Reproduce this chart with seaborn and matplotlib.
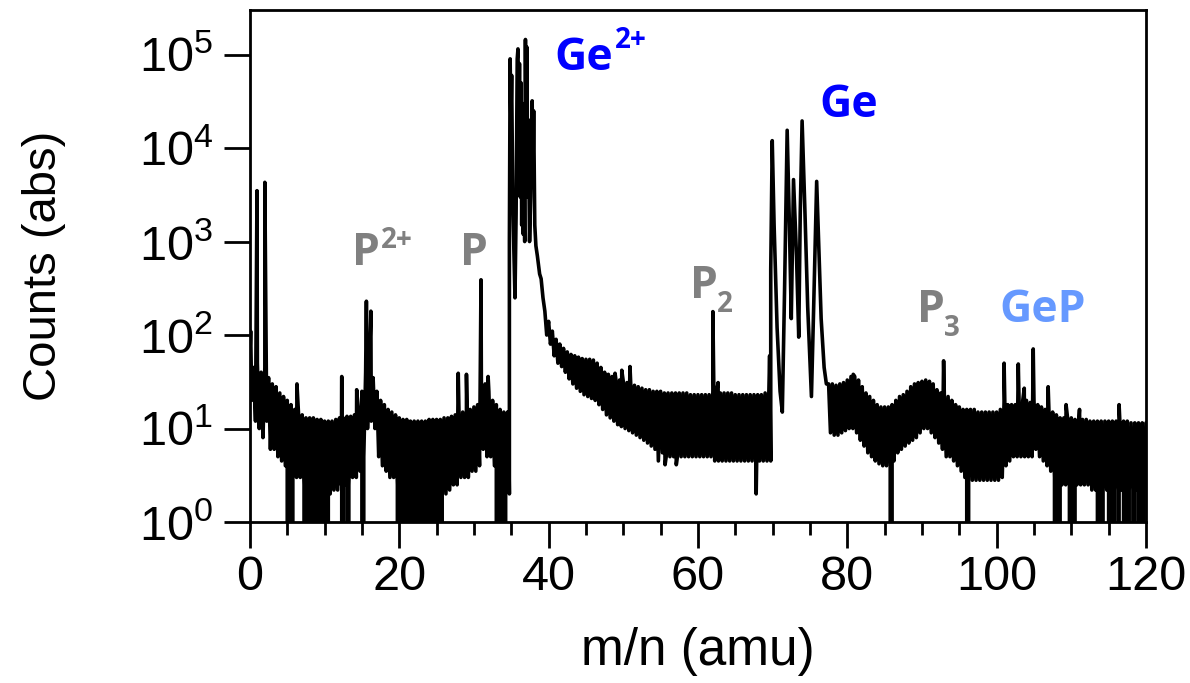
import numpy as np
import pandas as pd
import matplotlib
matplotlib.use("Agg")
import matplotlib.pyplot as plt
import seaborn as sns
from matplotlib.ticker import MultipleLocator, FixedLocator, NullLocator, LogFormatterSciNotation

# ---------------- data ----------------
# noise band (upper / lower envelope), sampled every 0.5 amu
band_step = 0.5

band_a_start = 0.0   # 0.0 ... 34.5
band_a_upper = [60, 45, 50, 40, 45, 35, 30, 28, 24, 22,
                20, 18, 16, 15, 14, 13, 13, 13, 12.5, 12.5,
                12, 12, 12, 12.5, 13, 13, 13.5, 13.5, 14, 16,
                25, 40, 45, 35, 25, 20, 18, 16, 15, 14,
                13, 12.5, 12.5, 12, 12, 12, 12, 12, 12.5, 12.5,
                12.5, 12.5, 13, 13, 13.5, 14, 15, 15, 16, 16,
                17, 18, 25, 30, 25, 20, 18, 16, 15, 15]
band_a_lower = [20, 12, 10, 8, 12, 6, 6, 5, 4.5, 4,
                4, 3.5, 3, 3, 2.5, 2.5, 2.2, 2.2, 2, 2,
                2, 2, 2.2, 2.2, 2.5, 2.5, 2.5, 3, 3, 3.5,
                5, 10, 12, 10, 5, 4, 3.5, 3, 3, 2.5,
                2.2, 2, 2, 2, 2, 2, 2, 2, 2, 2,
                2, 2, 2, 2.2, 2.5, 2.5, 3, 3, 3, 3.5,
                3.5, 4, 6, 5, 5, 4, 3, 2.5, 2, 2]

band_c_start = 39.0  # 39.0 ... 69.5
band_c_upper = [400, 180, 140, 110, 90, 80, 72, 66, 62, 60,
                58, 56, 55, 55, 54, 50, 45, 40, 38, 36,
                34, 33, 32, 31, 30, 29, 28, 27, 26, 26,
                25, 25, 25, 24, 24, 24, 24, 24, 24, 24,
                23, 23, 23, 23, 23, 23, 25, 25, 24, 24,
                24, 24, 23, 23, 23, 23, 23, 23, 23, 23,
                24, 25]
band_c_lower = [250, 100, 80, 60, 50, 46, 40, 34, 30, 27,
                25, 23, 22, 21, 20, 18, 16, 14, 13, 12,
                11, 10.5, 10, 9.5, 9, 8.5, 8, 7.5, 7, 6.5,
                6, 6, 5.5, 5, 5, 5, 5, 5, 5, 5,
                5, 5, 5, 5, 5, 5, 4.5, 4.5, 4.5, 4.5,
                4.5, 4.5, 4.5, 4.5, 4.5, 4.5, 4.5, 4.5, 4.5, 4.5,
                4.5, 4.5]

band_e_start = 77.5  # 77.5 ... 120.0
band_e_upper = [30, 30, 29, 30, 31,
                33, 36, 36, 33, 28, 24, 22, 20, 18, 17,
                17, 17, 18, 20, 22, 23, 25, 28, 30, 31,
                32, 33, 32, 30, 26, 24, 22, 22, 20, 18,
                17, 16, 16, 16, 16, 15, 15, 15, 15, 15,
                15, 16, 20, 18, 18, 18, 20, 20, 20, 19,
                20, 18, 17, 16, 16, 15, 14, 13, 13, 13,
                13, 12.5, 12.5, 12.5, 12.5, 12, 12, 12, 12, 12,
                12, 12, 12, 12, 12, 12, 11.5, 11.5, 11.5, 11.5, 11.5]
band_e_lower = [9, 8.5, 8.5, 9, 9.5,
                10, 10, 9, 7.5, 6.5, 5.5, 5, 4.5, 4.2, 4,
                4, 4.2, 4.5, 5.5, 6, 6.5, 7, 7.5, 8, 9,
                10, 10, 9, 8, 7, 6, 5, 5, 4.5, 4,
                3.5, 3, 3, 2.8, 2.8, 2.8, 2.8, 2.8, 2.8, 2.8,
                2.8, 3, 4, 4.5, 5, 5, 5, 5, 5, 5,
                6, 5, 4.5, 4, 3.5, 3, 2.5, 2.5, 2.5, 2.5,
                2.5, 2.5, 2.5, 2.5, 2.5, 2.2, 2.2, 2.2, 2.2, 2.2,
                2.2, 2.2, 2.2, 2.2, 2.2, 2.2, 2.2, 2.2, 2.2, 2.2, 2.2]

# Ge2+ cluster profile
ge2_mz = [34.6, 34.75, 34.85, 34.95, 35.05, 35.2, 35.35, 35.5, 35.65, 35.8,
          35.9, 36.0, 36.1, 36.2, 36.3, 36.4, 36.5, 36.6, 36.7, 36.8,
          36.9, 37.0, 37.1, 37.2, 37.3, 37.45, 37.6, 37.8, 37.9, 38.0,
          38.15, 38.3, 38.5, 38.8]
ge2_counts = [15, 1000, 9.0e4, 2.0e4, 6.0e4, 3000, 800, 250, 2000, 9.0e4,
              1.15e5, 1.0e4, 8.0e4, 3000, 5.0e4, 1500, 3.0e4, 1200, 2.0e4, 1000,
              1.45e5, 5000, 1.2e5, 3000, 2.0e4, 1000, 3000, 3.2e4, 5000, 2.5e4,
              1500, 900, 700, 450]

# Ge+ cluster profile
ge_mz = [69.6, 69.75, 69.95, 70.2, 70.6, 71.0, 71.3, 71.6, 71.95, 72.25,
         72.5, 72.8, 73.2, 73.5, 73.7, 73.95, 74.3, 74.7, 75.2, 75.5,
         75.9, 76.2, 76.5, 76.9, 77.2]
ge_counts = [60, 500, 1.2e4, 1500, 120, 25, 15, 300, 1.55e4, 1500,
             150, 4600, 700, 95, 2000, 1.95e4, 2500, 200, 22, 200,
             4400, 800, 150, 45, 30]

# isolated peaks and upward spikes
peak_mz = [0.1, 0.95, 2.0, 6.3, 12.3, 14.3, 15.6, 16.2, 27.9, 29.0,
           30.95, 31.9, 48.9, 49.8, 50.9, 62.0, 62.7, 80.8, 92.9, 101.0,
           102.9, 103.7, 104.9, 106.9, 109.3, 111.1, 116.4]
peak_counts = [110, 3500, 4300, 30, 36, 26, 230, 180, 39, 38,
               390, 36, 39, 42, 46, 178, 31, 38, 53, 50,
               49, 27, 71, 28, 18, 16, 18]

# downward spikes
dip_mz = [54.7, 55.6, 57.1, 67.8]
dip_counts = [4.5, 4.1, 4.1, 2.0]

# zero-count bins (lines to the bottom)
zero_mz = [5.2, 5.6, 7.3, 7.8, 8.3, 8.9, 9.4, 9.8, 10.3, 12.4, 13.0, 15.0,
           19.9, 20.4, 20.9, 21.3, 21.8, 22.2, 22.7, 23.1, 23.6, 24.0, 24.5,
           25.1, 25.6, 33.2, 33.6, 34.1, 85.9, 96.0, 107.9, 108.3, 109.8,
           110.3, 113.5, 114.2, 115.0, 115.6, 116.3, 117.0, 117.6, 118.3,
           119.0, 119.6]

# labels
labels = ["P", "P", "Ge", "Ge", "P", "P", "GeP"]
label_mz = [13.65, 28.1, 40.8, 76.3, 58.9, 89.3, 100.4]
label_counts = [560, 560, 6.9e4, 2.17e4, 250, 138, 138]
label_colors = ["#808080", "#808080", "#0000FF", "#0000FF", "#808080", "#808080", "#6699FF"]
script_text = ["2+", "", "2+", "", "2", "3", ""]
script_mz = [17.6, 0, 48.9, 0, 62.6, 93.0, 0]
script_counts = [860, 1, 1.18e5, 1, 177, 98, 1]

# ---------------- assemble trace ----------------
def band_points(start, upper, lower):
    pts = []
    for i, (u, l) in enumerate(zip(upper, lower)):
        x = start + band_step * i
        pts.append((x, u))
        pts.append((x + band_step / 2, l))
    return pts

pts = []
pts += band_points(band_a_start, band_a_upper, band_a_lower)
pts += band_points(band_c_start, band_c_upper, band_c_lower)
pts += band_points(band_e_start, band_e_upper, band_e_lower)
pts += list(zip(ge2_mz, ge2_counts))
pts += list(zip(ge_mz, ge_counts))
pts += list(zip(peak_mz, peak_counts))
pts += list(zip(dip_mz, dip_counts))
pts += [(z, 0.0) for z in zero_mz]
pts = [p for p in pts if p[0] <= 120.0]
pts.sort(key=lambda p: p[0])
df = pd.DataFrame(pts, columns=["mz", "counts"])

# ---------------- plot ----------------
sns.set_theme(style="ticks")
plt.rcParams["font.family"] = ["Liberation Sans", "DejaVu Sans"]
plt.rcParams["mathtext.fontset"] = "custom"
plt.rcParams["mathtext.rm"] = "Liberation Sans"
plt.rcParams["mathtext.it"] = "Liberation Sans:italic"
plt.rcParams["mathtext.bf"] = "Liberation Sans:bold"

fig = plt.figure(figsize=(11.9, 6.83), dpi=100)
ax = fig.add_axes([0.210, 0.2357, 0.753, 0.7497])

sns.lineplot(data=df, x="mz", y="counts", estimator=None, sort=False,
             color="black", linewidth=2.6, ax=ax)

ax.set_yscale("log")
ax.set_xlim(0, 120)
ax.set_ylim(1, 3e5)
ax.xaxis.set_major_locator(MultipleLocator(20))
ax.xaxis.set_minor_locator(MultipleLocator(5))
ax.yaxis.set_major_locator(FixedLocator([1, 10, 100, 1e3, 1e4, 1e5]))
ax.yaxis.set_major_formatter(LogFormatterSciNotation())
ax.yaxis.set_minor_locator(NullLocator())

for s in ax.spines.values():
    s.set_linewidth(2.0)
    s.set_color("black")
ax.tick_params(axis="both", which="major", direction="out", length=18.5, width=2.0,
               labelsize=35, color="black", labelcolor="black")
ax.tick_params(axis="x", which="minor", direction="out", length=9.5, width=2.0, color="black")
ax.tick_params(axis="x", which="major", pad=5)
ax.tick_params(axis="y", which="major", pad=8)

ax.set_xlabel("m/n (amu)", fontsize=37, labelpad=20, color="black")
ax.set_ylabel("Counts (abs)", fontsize=34, labelpad=52, color="black")

for t, x, y, c, st, sx, sy in zip(labels, label_mz, label_counts, label_colors,
                                   script_text, script_mz, script_counts):
    ax.text(x, y, t, color=c, fontsize=32, fontweight="bold",
            family=["Open Sans", "DejaVu Sans"], ha="left", va="baseline")
    if st:
        ax.text(sx, sy, st, color=c, fontsize=20, fontweight="bold",
                family=["Open Sans", "DejaVu Sans"], ha="left", va="baseline")

fig.savefig("out.png", dpi=100)
